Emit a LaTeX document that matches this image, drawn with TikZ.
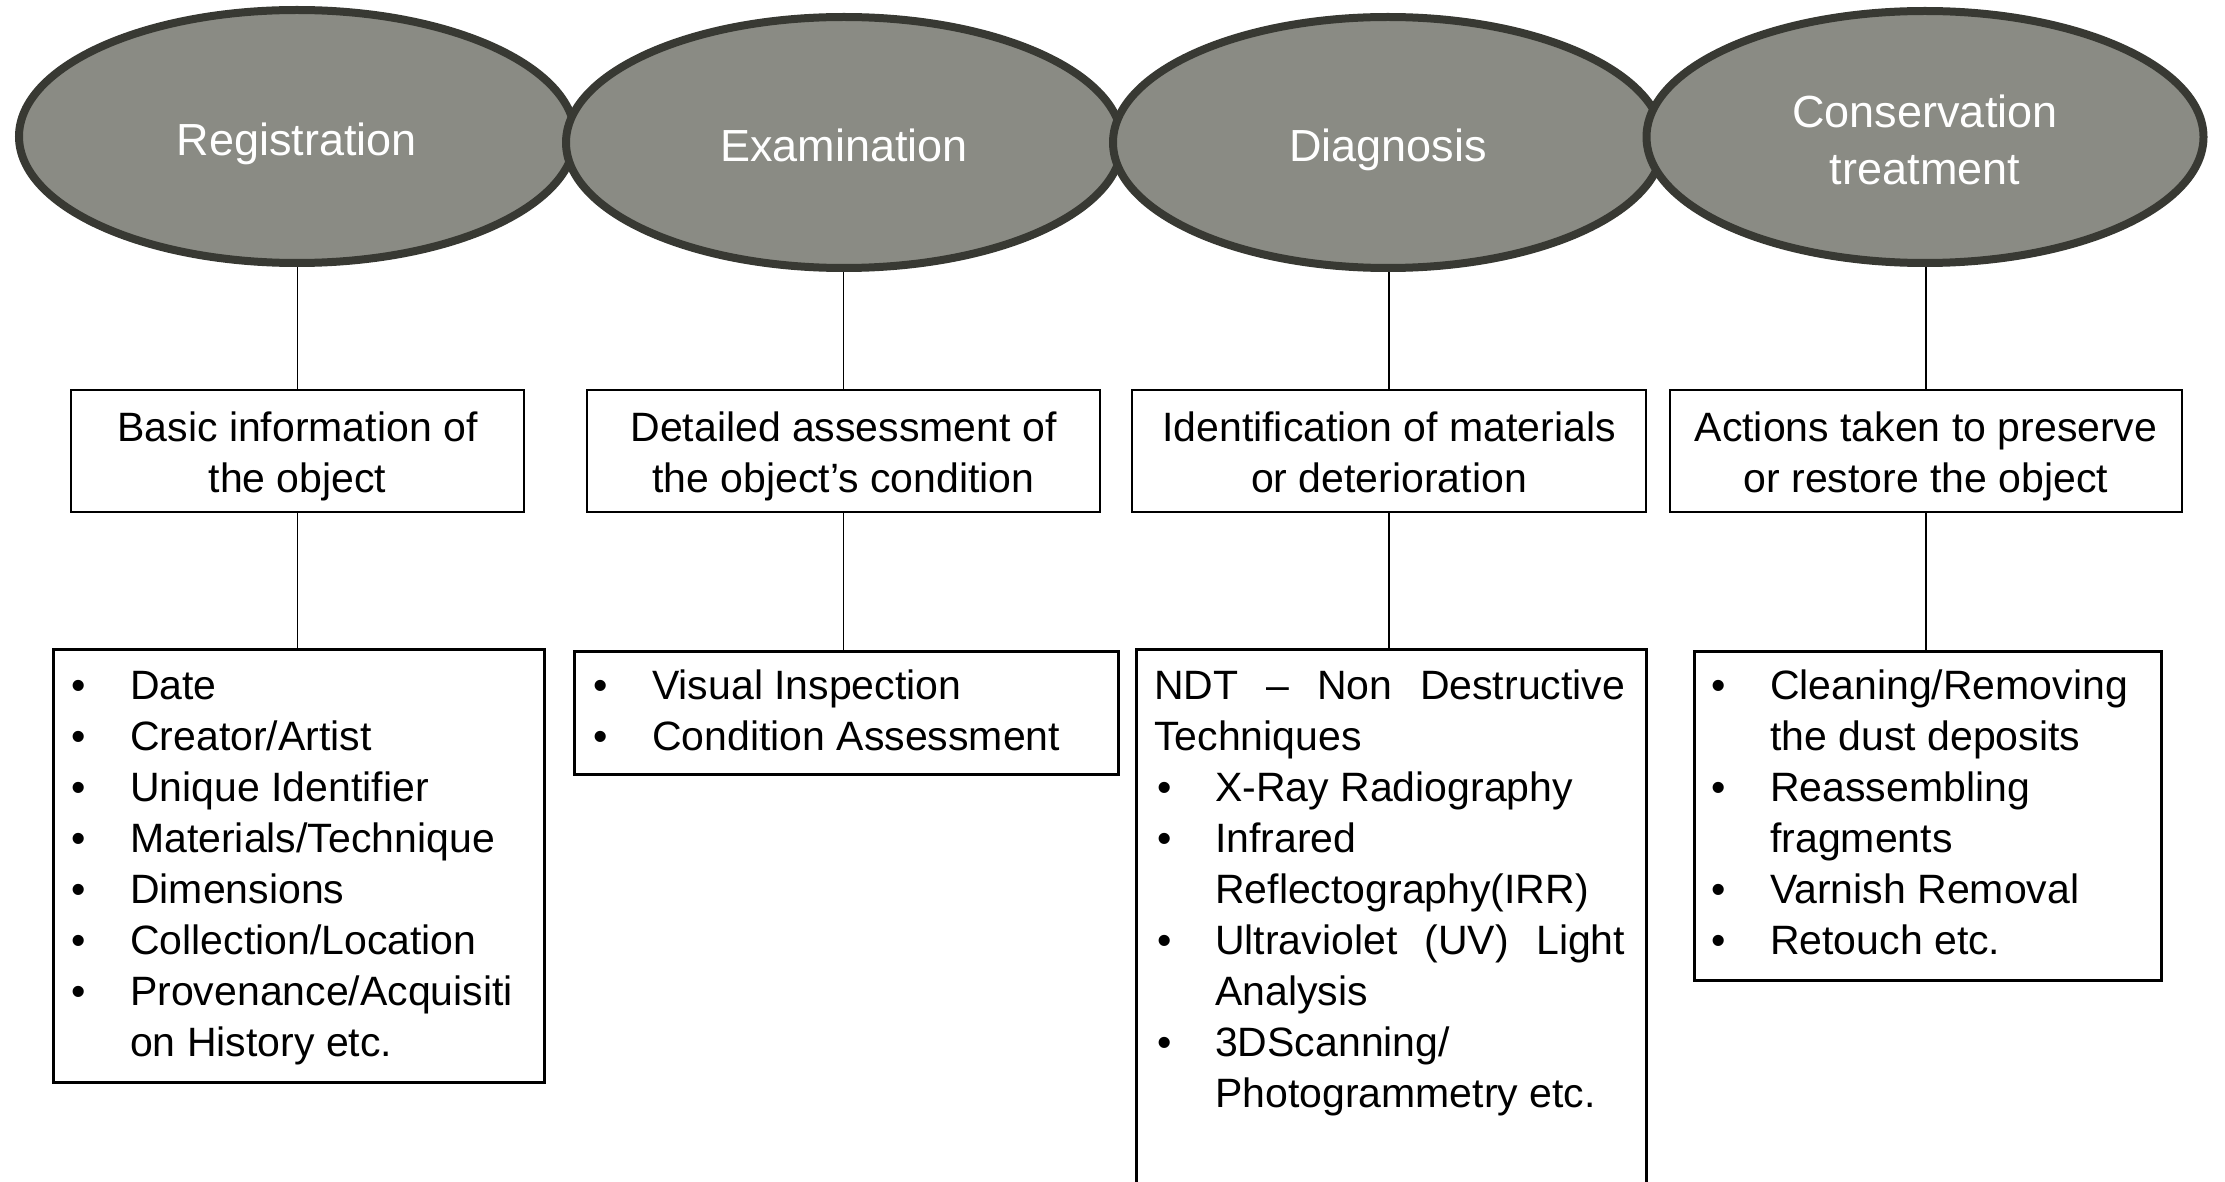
\documentclass[tikz,border=0pt]{standalone}
\usepackage{fontspec}
\setmainfont{Liberation Sans}
\usetikzlibrary{shapes.geometric}
\definecolor{ellfill}{RGB}{138,139,132}
\definecolor{elldraw}{RGB}{56,57,51}
\newcommand\topstrut{\rule{0pt}{40pt}}
\newcommand\firststrut{\rule{0pt}{44pt}}
\newcommand\laststrut{\rule[-12pt]{0pt}{12pt}}
\newcommand\bul{\makebox[59pt][l]{\textbullet}}
\newcommand\ind{\hspace*{59pt}}
\begin{document}
\begin{tikzpicture}[x=1pt,y=-1pt,
  phase/.style={ellipse, draw=elldraw, fill=ellfill, line width=8pt, text=white,
    font=\fontsize{45}{57}\selectfont, align=center, inner sep=0pt},
  oneline/.style={text height=38pt, text depth=0pt},
  infobox/.style={rectangle, draw=black, line width=2.5pt, fill=white, align=center,
    font=\fontsize{41}{51}\selectfont, inner sep=0pt, minimum height=122pt},
  listbox/.style={rectangle, draw=black, line width=2.5pt, inner sep=0pt, anchor=north west},
  listtext/.style={anchor=north west, align=left, font=\fontsize{41}{51}\selectfont, inner sep=0pt},
  link/.style={line width=1.5pt, draw=black}]
\useasboundingbox (0,0) rectangle (2225,1182);
\fill[white] (0,0) rectangle (2225,1182);

% phases
\node[phase, oneline, minimum width=556pt, minimum height=253pt] (e1) at (297,136.5) {Registration};
\node[phase, oneline, minimum width=556pt, minimum height=251pt] (e2) at (844,142.5) {Examination};
\node[phase, oneline, minimum width=550pt, minimum height=251pt] (e3) at (1388,142.5) {Diagnosis};
\node[phase, minimum width=557pt, minimum height=252pt] (e4) at (1925,137) {\rule{0pt}{39pt}Conservation\\treatment};

% description boxes
\node[infobox, minimum width=453pt] (b1) at (297.5,451) {\firststrut Basic information of\\the object\laststrut};
\node[infobox, minimum width=513pt] (b2) at (843.5,451) {\firststrut Detailed assessment of\\the object’s condition\laststrut};
\node[infobox, minimum width=514pt] (b3) at (1389,451) {\firststrut Identification of materials\\or deterioration\laststrut};
\node[infobox, minimum width=512pt] (b4) at (1926,451) {\firststrut Actions taken to preserve\\or restore the object\laststrut};

% list boxes
\node[listbox, minimum width=491pt, minimum height=433pt] (l1) at (52,648) {};
\node[listbox, minimum width=544pt, minimum height=123pt] (l2) at (573,650) {};
\node[listbox, minimum width=510pt, minimum height=560pt] (l3) at (1135,648) {};
\node[listbox, minimum width=467pt, minimum height=329pt] (l4) at (1693,650) {};

% list texts
\node[listtext] (t1) at (71,659) {\topstrut\bul Date\\
\bul Creator/Artist\\
\bul Unique Identifier\\
\bul Materials/Technique\\
\bul Dimensions\\
\bul Collection/Location\\
\bul Provenance/Acquisiti\\
\ind on History etc.};
\node[listtext] (t2) at (593,659) {\topstrut\bul Visual Inspection\\
\bul Condition Assessment};
\node[listtext] (t3) at (1154,659) {\topstrut\makebox[471pt][s]{NDT – Non Destructive}\\
Techniques\\
\hspace*{3pt}\makebox[58pt][l]{\textbullet}X-Ray Radiography\\
\hspace*{3pt}\makebox[58pt][l]{\textbullet}Infrared\\
\hspace*{61pt}Reflectography(IRR)\\
\hspace*{3pt}\makebox[58pt][l]{\textbullet}\makebox[410pt][s]{Ultraviolet (UV) Light}\\
\hspace*{61pt}Analysis\\
\hspace*{3pt}\makebox[58pt][l]{\textbullet}3DScanning/\\
\hspace*{61pt}Photogrammetry etc.};
\node[listtext] (t4) at (1711,659) {\topstrut\bul Cleaning/Removing\\
\ind the dust deposits\\
\bul Reassembling\\
\ind fragments\\
\bul Varnish Removal\\
\bul Retouch etc.};

% connectors
\draw[link] (b1.north |- e1.south) -- (b1.north);
\draw[link] (b2.north |- e2.south) -- (b2.north);
\draw[link] (b3.north |- e3.south) -- (b3.north);
\draw[link] (b4.north |- e4.south) -- (b4.north);
\draw[link] (b1.south) -- (b1.south |- l1.north);
\draw[link] (b2.south) -- (b2.south |- l2.north);
\draw[link] (b3.south) -- (b3.south |- l3.north);
\draw[link] (b4.south) -- (b4.south |- l4.north);
\end{tikzpicture}
\end{document}
